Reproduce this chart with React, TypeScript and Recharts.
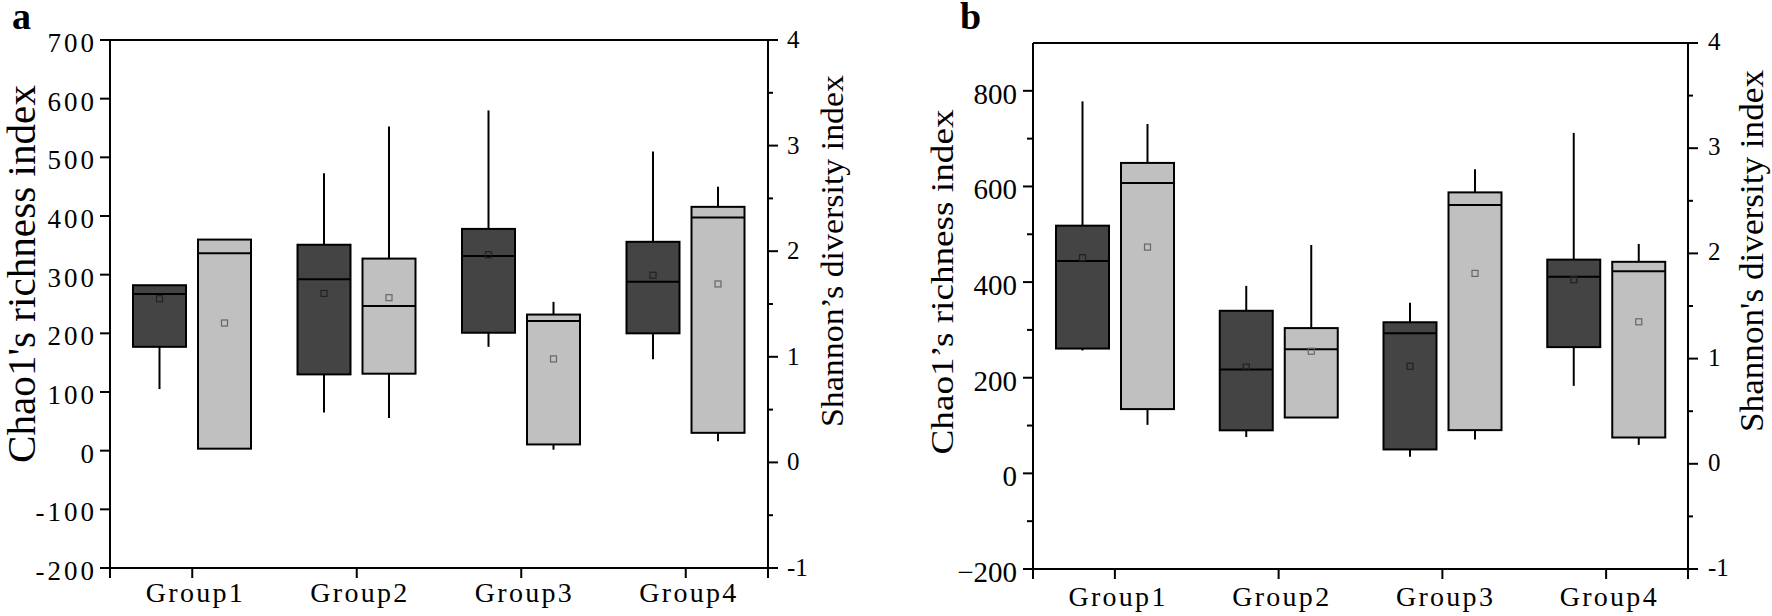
import { Bar, BarChart, Label, ReferenceLine, XAxis, YAxis } from "recharts"

const groups = ["Group1", "Group2", "Group3", "Group4"]

// each row: [min, q1, median, q3, max, mean]
const chaoA = [
  [105, 177, 267, 282, 282, 259],
  [65, 130, 292, 351, 473, 268],
  [177, 201, 332, 378, 580, 334],
  [156, 200, 288, 356, 510, 299],
]
const shannonA = [
  [0.13, 0.13, 1.98, 2.11, 2.11, 1.32],
  [0.42, 0.84, 1.48, 1.93, 3.18, 1.56],
  [0.12, 0.17, 1.34, 1.4, 1.52, 0.98],
  [0.2, 0.28, 2.32, 2.42, 2.61, 1.69],
]
const chaoB = [
  [257, 261, 444, 518, 778, 451],
  [76, 90, 217, 340, 392, 222],
  [35, 50, 293, 316, 357, 224],
  [183, 264, 411, 447, 712, 405],
]
const shannonB = [
  [0.37, 0.52, 2.67, 2.86, 3.23, 2.06],
  [0.44, 0.44, 1.09, 1.29, 2.08, 1.07],
  [0.23, 0.32, 2.46, 2.58, 2.8, 1.81],
  [0.18, 0.25, 1.83, 1.92, 2.09, 1.35],
]

const leftTicksA = [-200, -100, 0, 100, 200, 300, 400, 500, 600, 700]
const leftTicksB = [-200, -100, 0, 100, 200, 300, 400, 500, 600, 700, 800]
const rightTicks = [-1, -0.5, 0, 0.5, 1, 1.5, 2, 2.5, 3, 3.5, 4]

const FONT = "'Liberation Serif', 'Times New Roman', serif"

function BoxShape(props: any) {
  const { x, y, width, height, payload, stat, fill, mark } = props
  const [min, q1, med, q3, max, mean] = payload[stat]
  const top = Math.min(y, y + height)
  const bottom = Math.max(y, y + height)
  const k = (bottom - top) / (q3 - q1)
  const py = (v: number) => top + (q3 - v) * k
  const cx = x + width / 2
  return (
    <g>
      <line x1={cx} x2={cx} y1={py(max)} y2={py(q3)} stroke="#000" strokeWidth={2} />
      <line x1={cx} x2={cx} y1={py(q1)} y2={py(min)} stroke="#000" strokeWidth={2} />
      <rect x={x} y={top} width={width} height={bottom - top} fill={fill} stroke="#000" strokeWidth={2} />
      <line x1={x} x2={x + width} y1={py(med)} y2={py(med)} stroke="#000" strokeWidth={2} />
      <rect x={cx - 3} y={py(mean) - 3} width={6} height={6} fill="none" stroke={mark} strokeWidth={1.2} />
    </g>
  )
}

function LeftTick(props: any) {
  const { x, y, payload, major, gap, fontSize, dy, spacing, minus, bottom } = props
  const v = payload.value
  const isMajor = v % major === 0
  const label = v < 0 && minus ? `\u2212${-v}` : String(v)
  return (
    <g>
      <line x1={x - (isMajor ? 10 : 6)} x2={x} y1={y} y2={y} stroke="#000" strokeWidth={2} />
      {v === bottom && <line x1={x} x2={x} y1={y} y2={y + 10} stroke="#000" strokeWidth={2} />}
      {isMajor && (
        <text x={x - gap} y={y + dy} textAnchor="end" fontSize={fontSize} fontFamily={FONT} letterSpacing={spacing} fill="#000">
          {label}
        </text>
      )}
    </g>
  )
}

function RightTick(props: any) {
  const { x, y, payload, gap, fontSize, dy } = props
  const v = payload.value
  const isMajor = Number.isInteger(v)
  return (
    <g>
      <line x1={x} x2={x + (isMajor ? 10 : 5)} y1={y} y2={y} stroke="#000" strokeWidth={2} />
      {v === -1 && <line x1={x} x2={x} y1={y} y2={y + 10} stroke="#000" strokeWidth={2} />}
      {isMajor && (
        <text x={x + gap} y={y + dy} textAnchor="start" fontSize={fontSize} fontFamily={FONT} fill="#000">
          {v}
        </text>
      )}
    </g>
  )
}

function GroupTick(props: any) {
  const { x, y, payload, dy } = props
  return (
    <text x={x + 2} y={y + dy} textAnchor="middle" fontSize={28} fontFamily={FONT} textLength={97} lengthAdjust="spacing" fill="#000">
      {payload.value}
    </text>
  )
}

function Title({ x, y, size, len, text }: any) {
  return (
    <text transform={`translate(${x},${y}) rotate(-90)`} textAnchor="middle" fontSize={size} fontFamily={FONT} textLength={len} lengthAdjust="spacingAndGlyphs" fill="#000">
      {text}
    </text>
  )
}

function Panel({ cfg }: any) {
  const rows = groups.map((name, i) => ({
    name,
    chao: cfg.chao[i],
    shannon: cfg.shannon[i],
    chaoBox: [cfg.chao[i][1], cfg.chao[i][3]],
    shannonBox: [cfg.shannon[i][1], cfg.shannon[i][3]],
  }))
  const axisLine = { stroke: "#000", strokeWidth: 2 }
  return (
    <BarChart width={cfg.width} height={616} data={rows} margin={cfg.margin} barSize={53} barGap={12}>
      <XAxis
        dataKey="name"
        height={40}
        stroke="#000"
        axisLine={axisLine}
        tickLine={{ stroke: "#000", strokeWidth: 2 }}
        tickSize={10}
        tickMargin={0}
        interval={0}
        tick={<GroupTick dy={cfg.groupDy} />}
      />
      <YAxis
        yAxisId="l"
        orientation="left"
        width={60}
        type="number"
        domain={cfg.leftDomain}
        ticks={cfg.leftTicks}
        interval={0}
        axisLine={axisLine}
        tickLine={false}
        tickSize={0}
        tickMargin={0}
        tick={<LeftTick {...cfg.leftTick} bottom={cfg.leftDomain[0]} />}
      >
        <Label content={() => <Title {...cfg.leftTitle} />} />
      </YAxis>
      <YAxis
        yAxisId="r"
        orientation="right"
        width={60}
        type="number"
        domain={[-1, 4]}
        ticks={rightTicks}
        interval={0}
        axisLine={axisLine}
        tickLine={false}
        tickSize={0}
        tickMargin={0}
        tick={<RightTick {...cfg.rightTick} />}
      >
        <Label content={() => <Title {...cfg.rightTitle} />} />
      </YAxis>
      <ReferenceLine yAxisId="l" y={cfg.leftDomain[1]} stroke="#000" strokeWidth={2} />
      <Bar
        yAxisId="l"
        dataKey="chaoBox"
        fill="#444444"
        isAnimationActive={false}
        shape={(p: any) => <BoxShape {...p} stat="chao" fill="#444444" mark="#222222" />}
      />
      <Bar
        yAxisId="r"
        dataKey="shannonBox"
        fill="#c0c0c0"
        isAnimationActive={false}
        shape={(p: any) => <BoxShape {...p} stat="shannon" fill="#c0c0c0" mark="#666666" />}
      />
    </BarChart>
  )
}

const panelA = {
  chao: chaoA,
  shannon: shannonA,
  width: 880,
  margin: { top: 40, right: 52, bottom: 8, left: 50 },
  leftDomain: [-200, 700],
  leftTicks: leftTicksA,
  leftTick: { major: 100, gap: 13, fontSize: 27, dy: 12, spacing: 3, minus: false },
  rightTick: { gap: 19, fontSize: 25, dy: 8 },
  groupDy: 24,
  leftTitle: { x: 35, y: 274, size: 39, len: 378, text: "Chao1's richness index" },
  rightTitle: { x: 843, y: 251, size: 32, len: 352, text: "Shannon\u2019s diversity index" },
}

const panelB = {
  chao: chaoB,
  shannon: shannonB,
  width: 892,
  margin: { top: 43, right: 24, bottom: 7, left: 93 },
  leftDomain: [-200, 900],
  leftTicks: leftTicksB,
  leftTick: { major: 200, gap: 16, fontSize: 29, dy: 13, spacing: 0, minus: true },
  rightTick: { gap: 20, fontSize: 25, dy: 7 },
  groupDy: 27,
  leftTitle: { x: 73, y: 282, size: 31, len: 345, text: "Chao1\u2019s richness index" },
  rightTitle: { x: 883, y: 251, size: 34, len: 362, text: "Shannon's diversity index" },
}

export default function App() {
  return (
    <div style={{ position: "absolute", left: 0, top: 0, width: 1772, height: 616, background: "#fff", overflow: "hidden" }}>
      <div style={{ position: "absolute", left: 0, top: 0 }}>
        <Panel cfg={panelA} />
      </div>
      <div style={{ position: "absolute", left: 880, top: 0 }}>
        <Panel cfg={panelB} />
      </div>
      <svg width={1772} height={616} style={{ position: "absolute", left: 0, top: 0, pointerEvents: "none" }}>
        <text x={12} y={29} fontSize={38} fontWeight="bold" fontFamily={FONT}>a</text>
        <text x={960} y={29} fontSize={38} fontWeight="bold" fontFamily={FONT}>b</text>
      </svg>
    </div>
  )
}
